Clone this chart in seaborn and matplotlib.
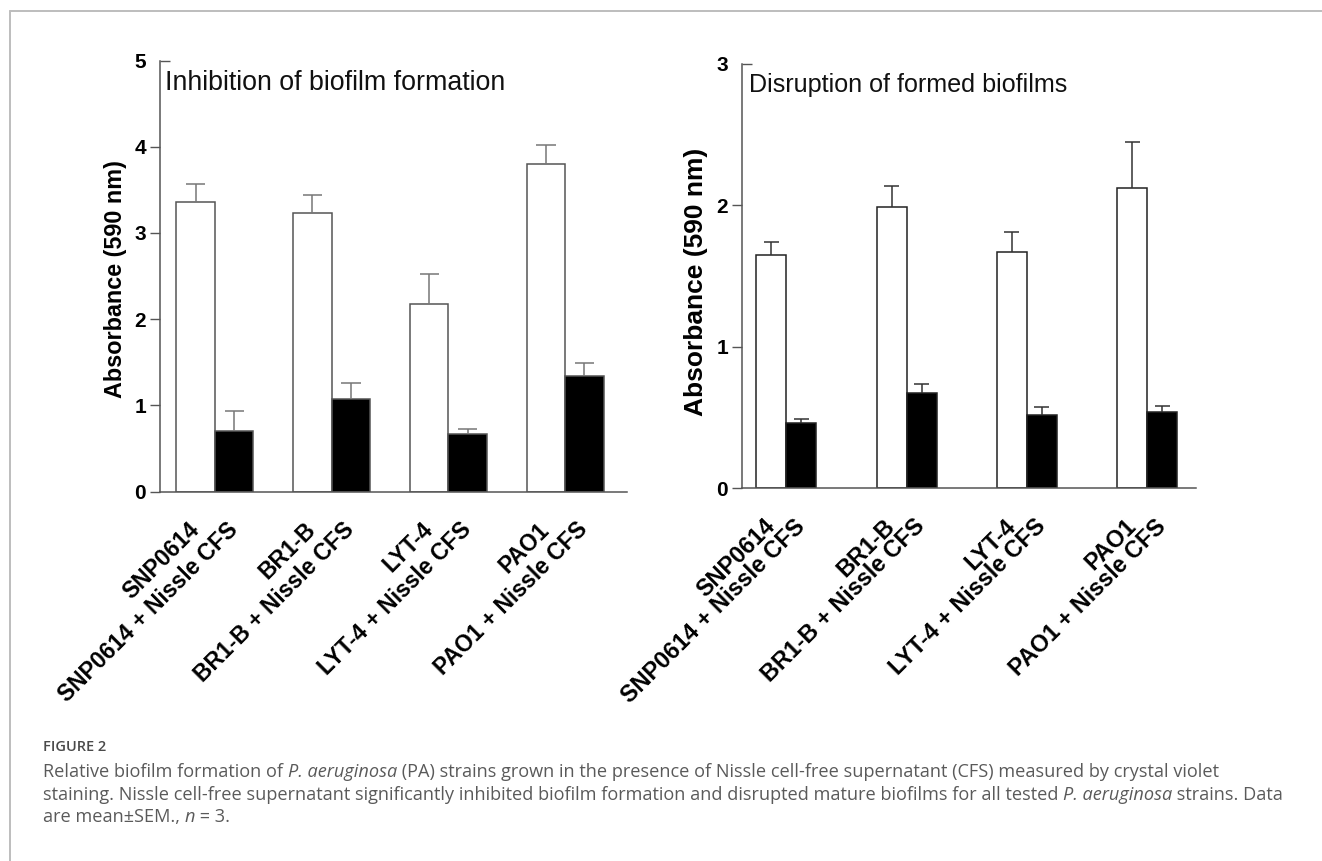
import numpy as np
import pandas as pd
import matplotlib
matplotlib.use("Agg")
import matplotlib.pyplot as plt
import matplotlib.lines as mlines
import seaborn as sns

# ---- data -------------------------------------------------------------
strains = ["SNP0614", "BR1-B", "LYT-4", "PAO1"]
treatments = ["Control", "Nissle CFS"]
tick_labels = [
    "SNP0614", "SNP0614 + Nissle CFS",
    "BR1-B", "BR1-B + Nissle CFS",
    "LYT-4", "LYT-4 + Nissle CFS",
    "PAO1", "PAO1 + Nissle CFS",
]

# inhibition of biofilm formation (mean, SEM)
inhib_ctrl = [3.36, 3.23, 2.18, 3.80]
inhib_ctrl_sem = [0.21, 0.21, 0.34, 0.22]
inhib_cfs = [0.70, 1.07, 0.67, 1.34]
inhib_cfs_sem = [0.23, 0.19, 0.05, 0.15]

# disruption of formed biofilms (mean, SEM)
disr_ctrl = [1.65, 1.99, 1.67, 2.12]
disr_ctrl_sem = [0.09, 0.15, 0.14, 0.33]
disr_cfs = [0.46, 0.675, 0.515, 0.535]
disr_cfs_sem = [0.026, 0.06, 0.06, 0.045]

FONT = "Liberation Sans"
CAP_FONT = "Open Sans"

sns.set_theme(style="white")
plt.rcParams["font.family"] = [FONT, "DejaVu Sans"]

W, H = 1322, 861
fig = plt.figure(figsize=(W / 100, H / 100), dpi=100)
fig.patch.set_facecolor("white")


def px_axes(x0, x1, y_top, y_bot):
    return fig.add_axes([x0 / W, 1 - y_bot / H, (x1 - x0) / W, (y_bot - y_top) / H])


def panel(ax, ctrl, ctrl_sem, cfs, cfs_sem, width, ymax, xlim, title,
          title_pos, title_size, label_size, label_y, label_pad,
          xtick_size, edge, err_color):
    df = pd.DataFrame({
        "strain": strains * 2,
        "treatment": [treatments[0]] * 4 + [treatments[1]] * 4,
        "absorbance": list(ctrl) + list(cfs),
    })
    sns.barplot(data=df, x="strain", y="absorbance", hue="treatment",
                order=strains, hue_order=treatments,
                palette=["white", "black"], width=width, errorbar=None,
                edgecolor=edge, linewidth=1.1, legend=False, ax=ax)

    # upper-only SEM whiskers with short caps
    centers = []
    for cont, sem in zip(ax.containers, [ctrl_sem, cfs_sem]):
        xs = [b.get_x() + b.get_width() / 2 for b in cont]
        ys = [b.get_height() for b in cont]
        centers.append(xs)
        bw = cont[0].get_width()
        ax.errorbar(xs, ys, yerr=[np.zeros(len(sem)), sem], fmt="none",
                    ecolor=err_color, elinewidth=1.1, capsize=0, zorder=1)
        ax.hlines([y + s for y, s in zip(ys, sem)],
                  [x - bw * 0.25 for x in xs], [x + bw * 0.25 for x in xs],
                  colors=err_color, linewidth=1.1, zorder=1)

    # one label per bar
    ticks = [c for pair in zip(centers[0], centers[1]) for c in pair]
    ax.set_xticks(ticks)
    ax.set_xticklabels(tick_labels, rotation=45, ha="right", va="center",
                       rotation_mode="anchor", fontsize=xtick_size,
                       fontweight="bold", color="black")
    ax.tick_params(axis="x", length=0, pad=25)
    ax.set_xlim(*xlim)

    ax.set_ylim(0, ymax)
    ax.set_yticks(range(0, ymax + 1))
    ax.set_yticklabels([str(v) for v in range(0, ymax + 1)],
                       fontsize=15, fontweight="bold", color="black")
    ax.tick_params(axis="y", direction="out", length=7, width=1.0,
                   color="#555555", pad=3, left=True)
    # top tick points into the plot
    ax.yaxis.get_major_ticks()[-1].tick1line.set_marker(mlines.TICKRIGHT)

    ax.set_xlabel("")
    ax.set_ylabel("Absorbance (590 nm)", fontsize=label_size,
                  fontweight="bold", color="black", labelpad=label_pad)
    ax.yaxis.label.set_y(label_y)

    for s in ["top", "right"]:
        ax.spines[s].set_visible(False)
    for s in ["left", "bottom"]:
        ax.spines[s].set_color("#555555")
        ax.spines[s].set_linewidth(1.1)
    ax.set_facecolor("none")
    ax.text(title_pos[0], title_pos[1], title, transform=ax.transAxes,
            ha="left", va="baseline", fontsize=title_size, color="#111111")


ax1 = px_axes(160, 627, 60.5, 491.5)
panel(ax1, inhib_ctrl, inhib_ctrl_sem, inhib_cfs, inhib_cfs_sem,
      width=0.66, ymax=5, xlim=(-0.471, 3.53),
      title="Inhibition of biofilm formation", title_pos=(0.011, 0.9316),
      title_size=19.3, label_size=16.8, label_y=0.494, label_pad=5,
      xtick_size=16.5, edge="#555555", err_color="#777777")

ax2 = px_axes(742, 1196, 63.9, 488.1)
panel(ax2, disr_ctrl, disr_ctrl_sem, disr_cfs, disr_cfs_sem,
      width=0.5, ymax=3, xlim=(-0.368, 3.405),
      title="Disruption of formed biofilms", title_pos=(0.0155, 0.9338),
      title_size=18.1, label_size=19, label_y=0.486, label_pad=6,
      xtick_size=16.8, edge="#222222", err_color="#333333")

# outer frame (left and top edges)
frame = "#bdbdbd"
fig.add_artist(mlines.Line2D([10 / W, 10 / W], [0, 1 - 11 / H],
                             transform=fig.transFigure, color=frame, lw=1.4))
fig.add_artist(mlines.Line2D([10 / W, 1], [1 - 11 / H, 1 - 11 / H],
                             transform=fig.transFigure, color=frame, lw=1.4))

# caption
cap_color = "#5a5a5a"
cap_family = [CAP_FONT, "DejaVu Sans"]
fig.text(43 / W, 1 - 751 / H, "FIGURE 2", family=cap_family,
         fontsize=10.5, fontweight="semibold", color="#4a4a4a",
         va="baseline", ha="left")

caption_lines = [
    (777, [("Relative biofilm formation of ", False), ("P. aeruginosa", True),
           (" (PA) strains grown in the presence of Nissle cell-free supernatant "
            "(CFS) measured by crystal violet", False)]),
    (800, [("staining. Nissle cell-free supernatant significantly inhibited "
            "biofilm formation and disrupted mature biofilms for all tested ",
            False), ("P. aeruginosa", True), (" strains. Data", False)]),
    (822, [("are mean\u00b1SEM., ", False), ("n", True), (" = 3.", False)]),
]

# lay out the mixed-style caption runs one after another on each line
fig.canvas.draw()
renderer = fig.canvas.get_renderer()
for y_px, parts in caption_lines:
    x_px = 43
    for txt, italic in parts:
        t = fig.text(x_px / W, 1 - y_px / H, txt, family=cap_family,
                     fontsize=13.1, style="italic" if italic else "normal",
                     color=cap_color, va="baseline", ha="left")
        x_px += t.get_window_extent(renderer).width

fig.savefig("out.png", dpi=100, facecolor="white")
